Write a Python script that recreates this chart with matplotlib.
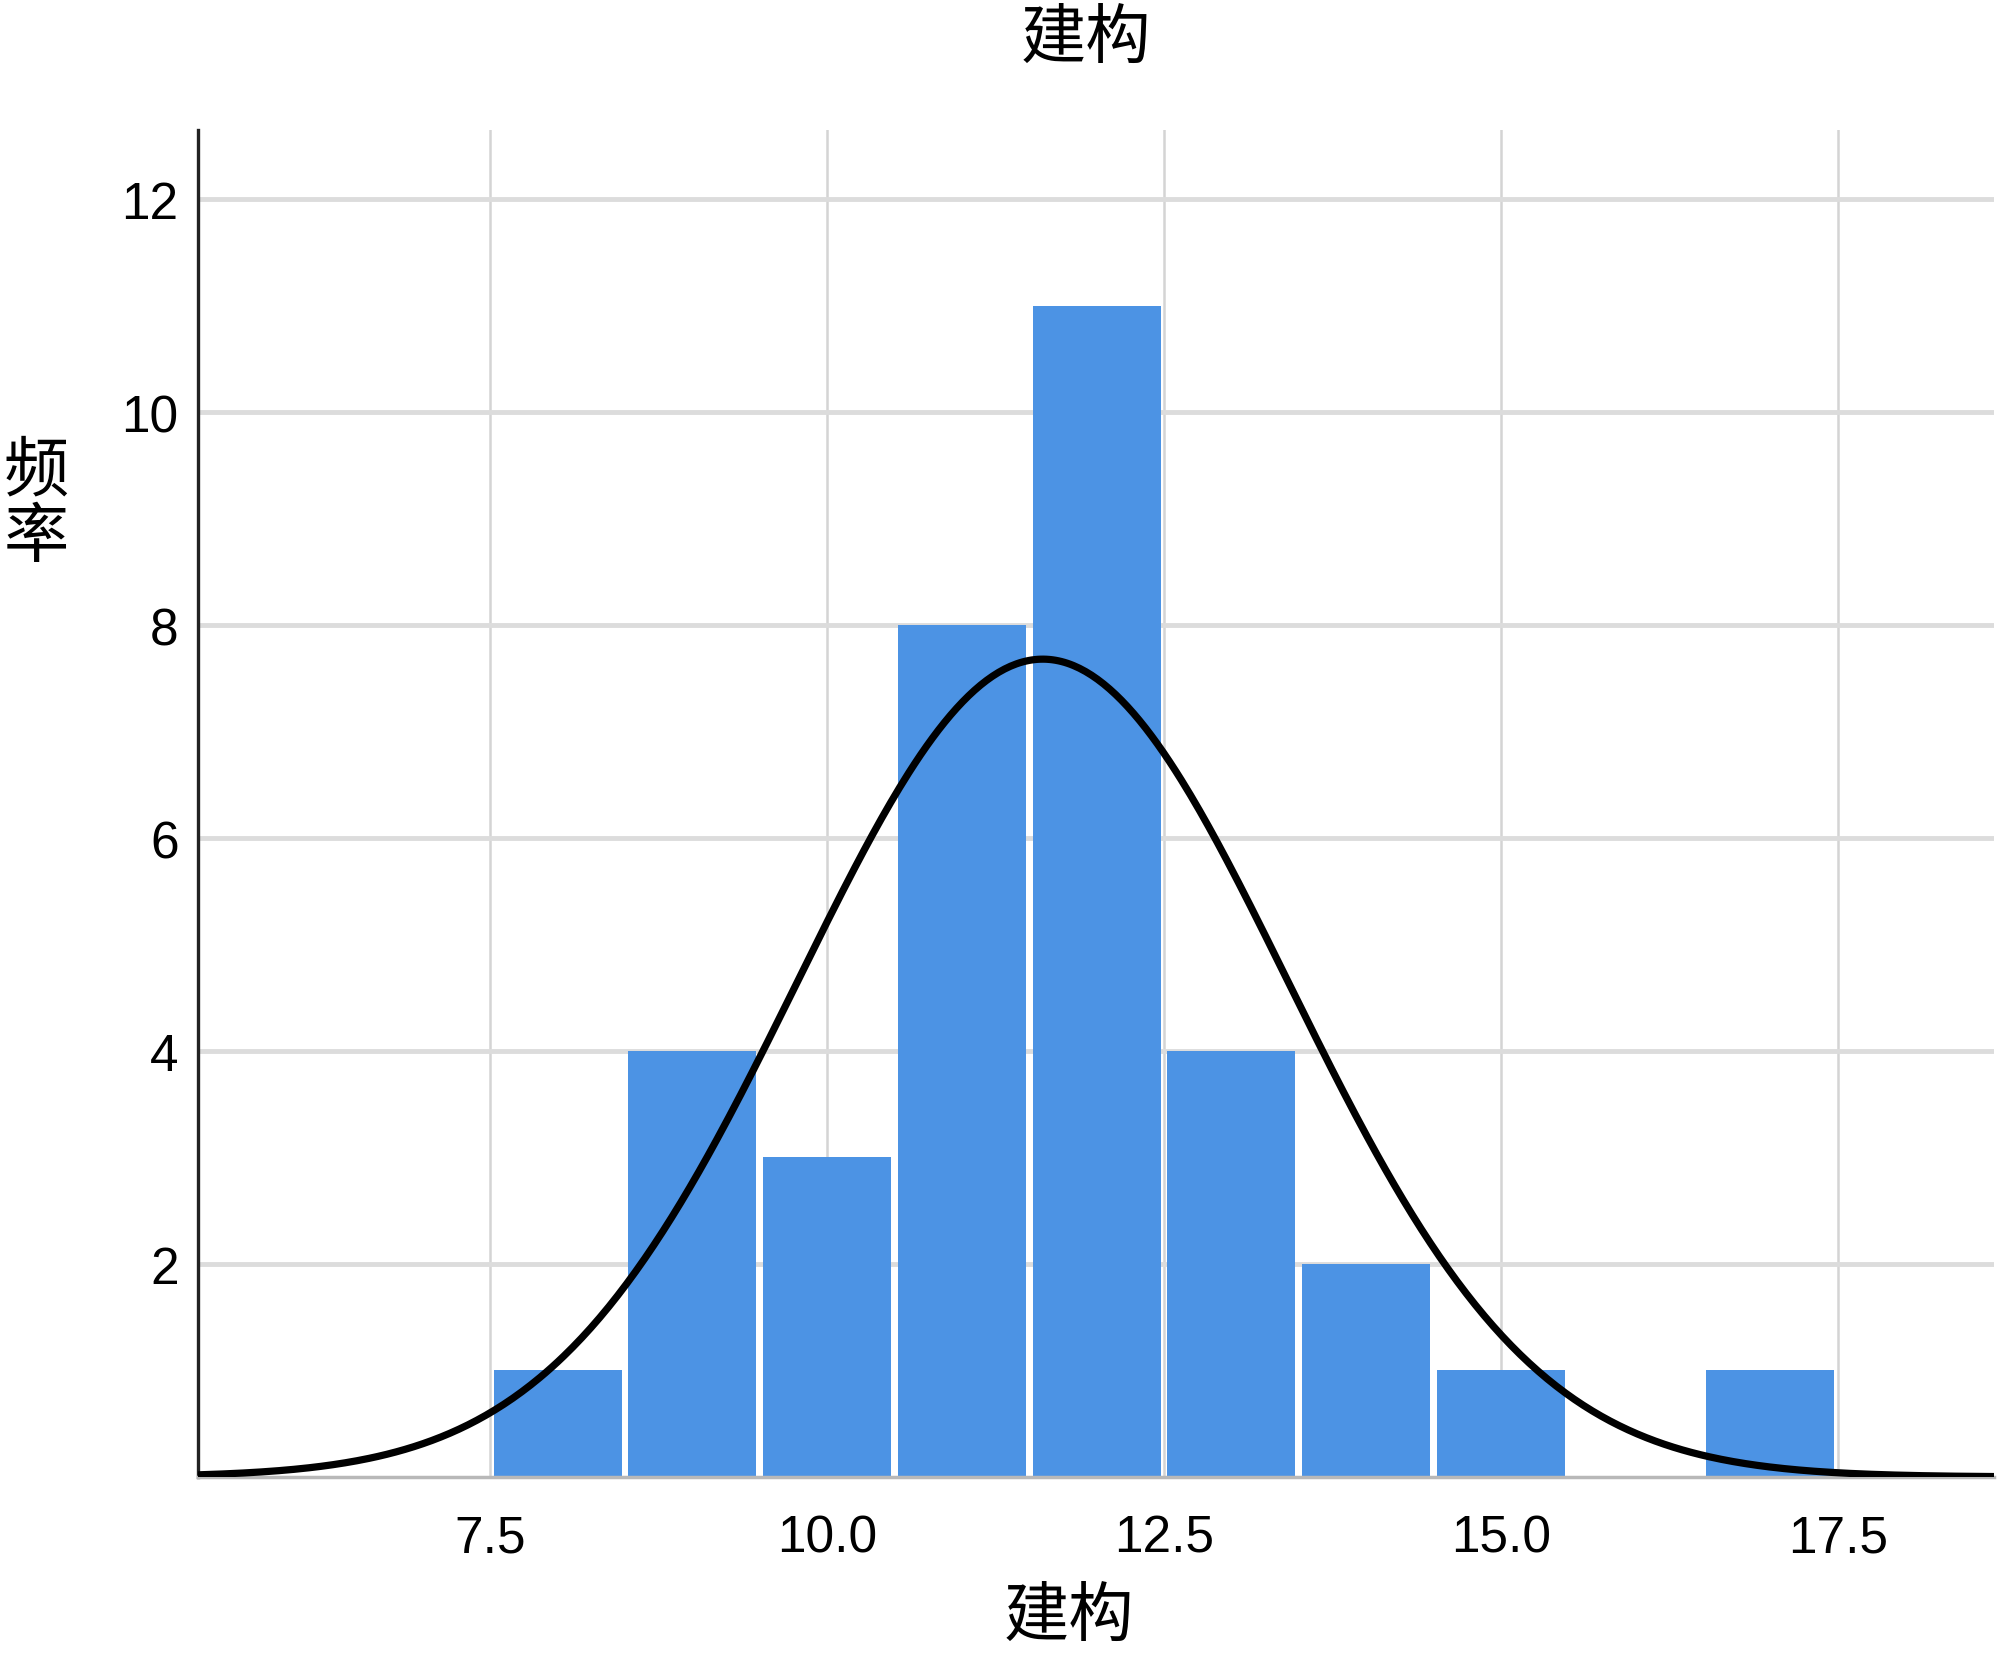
import matplotlib
matplotlib.use("Agg")
import matplotlib.pyplot as plt
import numpy as np

# histogram of 建构: bin centres (width 1) and their frequencies
bin_centers = [8, 9, 10, 11, 12, 13, 14, 15, 17]
counts = [1, 4, 3, 8, 11, 4, 2, 1, 1]
x_ticks = [7.5, 10.0, 12.5, 15.0, 17.5]
x_tick_labels = ["7.5", "10.0", "12.5", "15.0", "17.5"]
y_ticks = [2, 4, 6, 8, 10, 12]
title = "建构"
x_label = "建构"
y_label = "频率"

BAR_COLOR = "#4c93e4"
CJK = ["Noto Sans CJK SC", "DejaVu Sans"]
NUM = ["Liberation Sans", "DejaVu Sans"]

centers = np.asarray(bin_centers, dtype=float)
n = np.asarray(counts, dtype=float)
total = n.sum()
mean = (centers * n).sum() / total
std = np.sqrt(((centers - mean) ** 2 * n).sum() / (total - 1))

fig = plt.figure(figsize=(20, 16.56), dpi=100)
ax = fig.add_axes([0.099, 0.1075, 0.898, 0.8135])

ax.bar(centers, n, width=0.95, color=BAR_COLOR, linewidth=0, zorder=2)

# fitted normal curve scaled to counts (bin width 1)
xs = np.linspace(5.33, 18.66, 600)
ys = total / (std * np.sqrt(2 * np.pi)) * np.exp(-0.5 * ((xs - mean) / std) ** 2)
ax.plot(xs, ys, color="black", lw=5.2, zorder=3, solid_capstyle="round")

ax.set_xlim(5.33, 18.66)
ax.set_ylim(0, 12.65)
ax.set_xticks(x_ticks)
ax.set_xticklabels(x_tick_labels)
ax.set_yticks(y_ticks)
ax.tick_params(length=0, labelsize=37)
ax.tick_params(axis="x", pad=26)
ax.tick_params(axis="y", pad=14)
for lab in ax.get_xticklabels() + ax.get_yticklabels():
    lab.set_family(NUM)

ax.set_axisbelow(True)
ax.grid(axis="y", color="#dcdcdc", lw=3.5, zorder=0)
ax.grid(axis="x", color="#d4d4d4", lw=1.8, zorder=0)

for side in ("top", "right"):
    ax.spines[side].set_visible(False)
ax.spines["left"].set_color("#222222")
ax.spines["left"].set_linewidth(2.4)
ax.spines["bottom"].set_color("#b8b8b8")
ax.spines["bottom"].set_linewidth(2.5)

fig.text(1086 / 2000, 1 - 40 / 1656, title, family=CJK, fontsize=47,
         fontweight="medium", ha="center", va="center")
fig.text(1069 / 2000, 1 - 1618 / 1656, x_label, family=CJK, fontsize=47,
         fontweight="medium", ha="center", va="center")
fig.text(36 / 2000, 1 - 505 / 1656, "\n".join(y_label), family=CJK,
         fontsize=47, fontweight="medium", ha="center", va="center",
         linespacing=1.0)

fig.savefig("out.png", dpi=100)
